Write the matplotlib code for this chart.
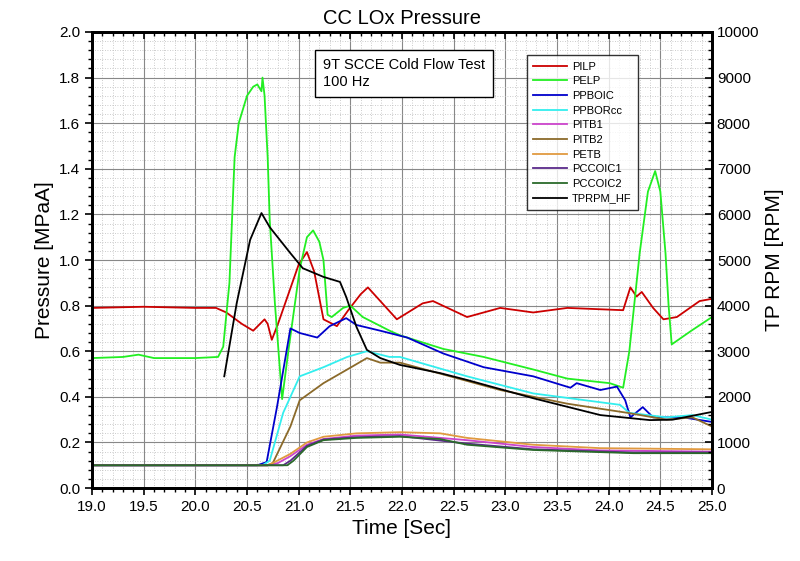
import matplotlib
matplotlib.use('Agg')
import matplotlib.pyplot as plt
from matplotlib.ticker import MultipleLocator

plt.rcParams['font.family'] = ['Liberation Sans', 'DejaVu Sans']

# time [s] / value points
t_pilp = [19.0, 19.5, 20.0, 20.2, 20.3, 20.45, 20.56, 20.67, 20.7, 20.74, 20.8, 20.9, 21.0, 21.08,
          21.15, 21.24, 21.37, 21.48, 21.6, 21.67, 21.79, 21.95, 22.2, 22.3, 22.63, 22.95,
          23.27, 23.6, 24.14, 24.21, 24.27, 24.32, 24.43, 24.53, 24.66, 24.88, 25.0]
pilp = [0.79, 0.795, 0.79, 0.79, 0.77, 0.72, 0.69, 0.74, 0.72, 0.65, 0.72, 0.85, 0.98, 1.035,
        0.95, 0.74, 0.71, 0.78, 0.85, 0.88, 0.82, 0.74, 0.81, 0.82, 0.75, 0.79,
        0.77, 0.79, 0.78, 0.88, 0.84, 0.86, 0.79, 0.74, 0.75, 0.82, 0.83]

t_pelp = [19.0, 19.3, 19.45, 19.6, 20.0, 20.22, 20.27, 20.33, 20.38, 20.42, 20.5, 20.56, 20.6,
          20.64, 20.65, 20.67, 20.7, 20.72, 20.77, 20.84, 20.9, 21.01, 21.08, 21.14, 21.2,
          21.24, 21.26, 21.28, 21.32, 21.43, 21.5, 21.62, 21.88, 21.98, 22.4, 22.79, 23.27,
          23.6, 24.01, 24.14, 24.2, 24.3, 24.38, 24.45, 24.5, 24.55, 24.58, 24.61, 24.8, 25.0]
pelp = [0.57, 0.575, 0.585, 0.57, 0.57, 0.575, 0.62, 0.9, 1.45, 1.6, 1.72, 1.76, 1.77,
        1.74, 1.8, 1.72, 1.45, 1.175, 0.81, 0.39, 0.6, 0.96, 1.1, 1.13, 1.08,
        1.0, 0.88, 0.76, 0.75, 0.79, 0.8, 0.75, 0.69, 0.67, 0.61, 0.575, 0.52,
        0.48, 0.46, 0.44, 0.6, 1.03, 1.3, 1.39, 1.3, 1.03, 0.8, 0.63, 0.69, 0.75]

t_ppboic = [19.0, 20.6, 20.69, 20.79, 20.92, 21.01, 21.18, 21.3, 21.46, 21.56, 21.79, 22.05,
            22.4, 22.79, 23.27, 23.63, 23.69, 23.92, 24.08, 24.16, 24.21, 24.33, 24.43, 24.72, 25.0]
ppboic = [0.10, 0.10, 0.114, 0.355, 0.70, 0.68, 0.66, 0.71, 0.745, 0.715, 0.69, 0.66,
          0.59, 0.53, 0.49, 0.44, 0.46, 0.43, 0.445, 0.385, 0.31, 0.355, 0.31, 0.31, 0.29]

t_pporcc = [19.0, 20.65, 20.72, 20.85, 21.01, 21.24, 21.47, 21.66, 21.88, 21.98, 22.63,
            23.27, 24.11, 24.2, 24.56, 24.81, 25.0]
pporcc = [0.10, 0.10, 0.12, 0.33, 0.49, 0.53, 0.575, 0.60, 0.575, 0.575, 0.49,
          0.415, 0.365, 0.33, 0.31, 0.32, 0.30]

t_pitb1 = [19.0, 20.7, 20.8, 20.92, 21.08, 21.24, 21.56, 21.98, 22.63, 23.27, 23.92, 25.0]
pitb1 = [0.10, 0.10, 0.11, 0.14, 0.19, 0.215, 0.23, 0.235, 0.21, 0.18, 0.165, 0.16]

t_pitb2 = [19.0, 20.7, 20.75, 20.92, 21.01, 21.24, 21.47, 21.66, 21.79, 21.98, 22.95,
           23.6, 24.18, 24.56, 24.81, 25.0]
pitb2 = [0.10, 0.10, 0.11, 0.27, 0.385, 0.46, 0.52, 0.57, 0.55, 0.55, 0.43,
         0.37, 0.33, 0.30, 0.31, 0.27]

t_petb = [19.0, 20.7, 20.75, 20.92, 21.08, 21.24, 21.56, 21.98, 22.37, 22.63, 23.27, 23.92, 25.0]
petb = [0.10, 0.10, 0.11, 0.15, 0.20, 0.225, 0.24, 0.245, 0.24, 0.22, 0.19, 0.175, 0.17]

t_pccoic1 = [19.0, 20.85, 20.92, 21.08, 21.24, 21.56, 21.98, 22.63, 23.27, 24.24, 25.0]
pccoic1 = [0.10, 0.10, 0.12, 0.185, 0.213, 0.223, 0.228, 0.195, 0.17, 0.156, 0.156]

t_pccoic2 = [19.0, 20.89, 20.95, 21.08, 21.24, 21.56, 21.98, 22.37, 22.63, 23.27, 24.24, 25.0]
pccoic2 = [0.10, 0.10, 0.12, 0.18, 0.21, 0.22, 0.225, 0.215, 0.19, 0.167, 0.153, 0.153]

t_rpm = [20.28, 20.4, 20.53, 20.64, 20.72, 20.92, 21.04, 21.24, 21.4, 21.46, 21.56, 21.66,
         21.79, 21.98, 22.37, 22.63, 23.27, 23.92, 24.4, 24.62, 25.0]
rpm = [2450, 4050, 5440, 6030, 5720, 5150, 4820, 4630, 4520, 4190, 3530, 3030,
       2850, 2700, 2520, 2370, 1970, 1600, 1490, 1500, 1670]

fig = plt.figure(figsize=(8, 5.61), dpi=100)
ax = fig.add_axes([0.115, 0.130, 0.775, 0.813])
ax2 = ax.twinx()

lw = 1.3
series = [
    (t_pilp, pilp, '#cc0000', 'PILP'),
    (t_pelp, pelp, '#22ee22', 'PELP'),
    (t_ppboic, ppboic, '#0000cc', 'PPBOIC'),
    (t_pporcc, pporcc, '#33eeee', 'PPBORcc'),
    (t_pitb1, pitb1, '#cc44cc', 'PITB1'),
    (t_pitb2, pitb2, '#8b6a2a', 'PITB2'),
    (t_petb, petb, '#e09a40', 'PETB'),
    (t_pccoic1, pccoic1, '#5a2a8a', 'PCCOIC1'),
    (t_pccoic2, pccoic2, '#2a6a2a', 'PCCOIC2'),
]
handles = []
for t, v, c, name in series:
    h, = ax.plot(t, v, color=c, lw=lw, label=name)
    handles.append(h)
h, = ax2.plot(t_rpm, rpm, color='black', lw=lw, label='TPRPM_HF')
handles.append(h)

ax.set_xlim(19.0, 25.0)
ax.set_ylim(0.0, 2.0)
ax2.set_ylim(0, 10000)
ax.xaxis.set_major_locator(MultipleLocator(0.5))
ax.xaxis.set_minor_locator(MultipleLocator(0.1))
ax.yaxis.set_major_locator(MultipleLocator(0.2))
ax.yaxis.set_minor_locator(MultipleLocator(0.04))
ax2.yaxis.set_major_locator(MultipleLocator(1000))
ax2.yaxis.set_minor_locator(MultipleLocator(200))
ax.xaxis.set_major_formatter(matplotlib.ticker.FormatStrFormatter('%.1f'))
ax.yaxis.set_major_formatter(matplotlib.ticker.FormatStrFormatter('%.1f'))

ax.grid(which='major', color='#888888', lw=0.8, ls='-')
ax.grid(which='minor', color='#bbbbbb', lw=0.6, ls=(0, (1, 2)))
ax.set_axisbelow(True)

ax.tick_params(which='both', labelsize=11, direction='out')
ax.tick_params(which='major', length=5, width=1.2)
ax.tick_params(which='minor', length=3, width=1)
ax.tick_params(axis='x', which='both', top=True, labeltop=False)
ax2.tick_params(which='both', labelsize=11, direction='in')
ax2.tick_params(which='major', length=5, width=1.2)
ax2.tick_params(which='minor', length=3, width=1)
for a in (ax, ax2):
    for s in a.spines.values():
        s.set_linewidth(2)

# top ticks point inward
for tk in ax.xaxis.get_major_ticks() + ax.xaxis.get_minor_ticks():
    tk.tick2line.set_marker(matplotlib.lines.TICKDOWN)

ax.set_xlabel('Time [Sec]', fontsize=15)
ax.set_ylabel('Pressure [MPaA]', fontsize=15)
ax2.set_ylabel('TP RPM [RPM]', fontsize=15)
ax.set_title('CC LOx Pressure', fontsize=14.5, pad=6)

ax2.text(0.373, 0.942, '9T SCCE Cold Flow Test\n100 Hz', transform=ax.transAxes,
         fontsize=10.5, va='top', ha='left', linespacing=1.25,
         bbox=dict(boxstyle='square,pad=0.55', fc='white', ec='black', lw=1))

leg = ax2.legend(handles=handles, loc='upper left', bbox_to_anchor=(0.692, 0.962),
                 fontsize=8, frameon=True, fancybox=False, edgecolor='black',
                 handlelength=3.0, labelspacing=0.42, borderpad=0.6, handletextpad=0.5)
leg.get_frame().set_linewidth(1)

fig.savefig('out.png', dpi=100)
